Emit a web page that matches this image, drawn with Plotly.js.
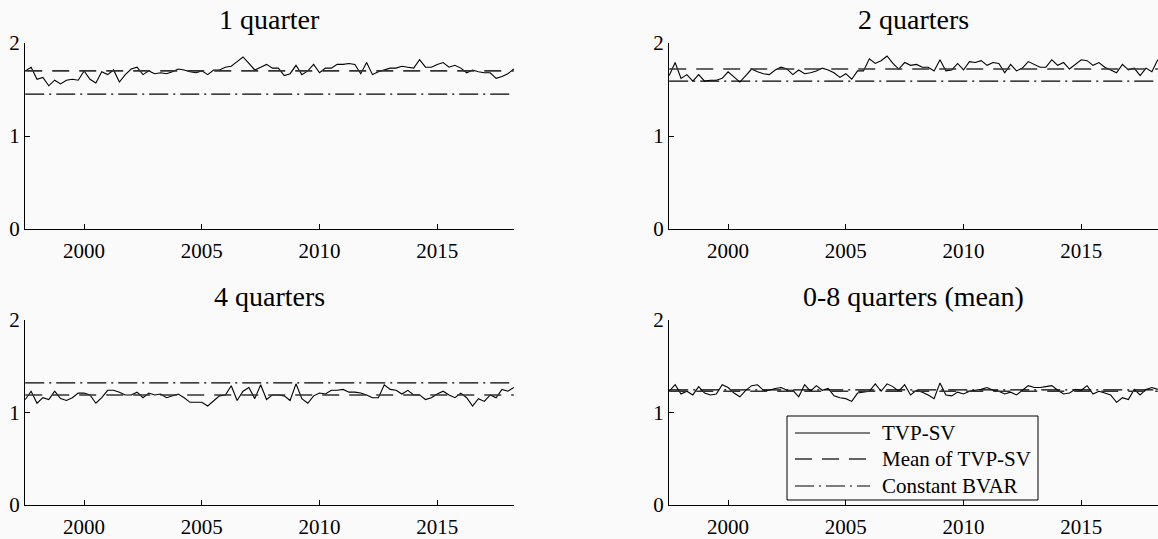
<!DOCTYPE html>
<html>
<head>
<meta charset="utf-8">
<script src="https://cdn.plot.ly/plotly-3.0.1.min.js"></script>
<style>html,body{margin:0;padding:0;background:#fafafa;}#chart{width:1158px;height:539px;}</style>
</head>
<body>
<div id="chart"></div>
<script>
// Quarterly sample 1997Q3 - 2018Q2
const startYear = 1997.5;
const nQuarters = 84;
const dates = [];
for (let i = 0; i < nQuarters; i++) dates.push(startYear + i * 0.25);

const panelTitles = ["1 quarter", "2 quarters", "4 quarters", "0-8 quarters (mean)"];
const seriesNames = ["TVP-SV", "Mean of TVP-SV", "Constant BVAR"];
const xTickVals = [2000, 2005, 2010, 2015];
const yTickVals = [0, 1, 2];

const tvp1 = [1.70,1.74,1.61,1.63,1.54,1.60,1.56,1.60,1.61,1.60,1.70,1.61,1.57,1.69,1.66,1.71,1.58,1.66,1.72,1.74,
  1.66,1.70,1.67,1.68,1.67,1.69,1.72,1.71,1.69,1.68,1.70,1.66,1.71,1.71,1.74,1.75,1.80,1.85,1.78,1.71,
  1.74,1.77,1.73,1.73,1.65,1.67,1.76,1.66,1.70,1.77,1.68,1.73,1.73,1.77,1.77,1.78,1.77,1.67,1.79,1.66,
  1.69,1.71,1.73,1.73,1.75,1.74,1.73,1.82,1.74,1.74,1.77,1.79,1.74,1.76,1.73,1.68,1.71,1.69,1.68,1.68,
  1.62,1.64,1.67,1.72];
const tvp2 = [1.65,1.79,1.62,1.66,1.59,1.66,1.59,1.60,1.60,1.62,1.69,1.64,1.58,1.65,1.72,1.69,1.67,1.66,1.71,1.74,
  1.72,1.66,1.71,1.67,1.68,1.70,1.73,1.71,1.68,1.63,1.67,1.61,1.70,1.70,1.83,1.78,1.81,1.86,1.78,1.72,
  1.79,1.76,1.77,1.74,1.74,1.70,1.82,1.70,1.71,1.78,1.71,1.80,1.79,1.81,1.76,1.79,1.78,1.68,1.77,1.70,
  1.73,1.80,1.77,1.74,1.74,1.82,1.76,1.79,1.72,1.77,1.82,1.81,1.76,1.79,1.74,1.71,1.68,1.77,1.71,1.73,
  1.65,1.73,1.69,1.82];
const tvp4 = [1.14,1.23,1.10,1.16,1.14,1.23,1.15,1.13,1.16,1.21,1.21,1.19,1.10,1.16,1.24,1.24,1.22,1.19,1.19,1.22,
  1.16,1.21,1.19,1.20,1.16,1.18,1.20,1.16,1.11,1.11,1.11,1.07,1.12,1.18,1.19,1.29,1.13,1.23,1.27,1.15,
  1.30,1.14,1.19,1.19,1.18,1.13,1.31,1.15,1.10,1.18,1.21,1.20,1.24,1.24,1.25,1.22,1.22,1.21,1.19,1.16,
  1.16,1.30,1.25,1.24,1.20,1.24,1.19,1.19,1.14,1.16,1.20,1.23,1.19,1.16,1.21,1.16,1.07,1.15,1.12,1.19,
  1.16,1.25,1.23,1.27];
const tvp08 = [1.23,1.30,1.20,1.23,1.19,1.28,1.21,1.19,1.20,1.30,1.27,1.21,1.17,1.24,1.29,1.30,1.24,1.24,1.26,1.27,
  1.24,1.24,1.17,1.30,1.23,1.29,1.24,1.26,1.18,1.16,1.15,1.12,1.21,1.22,1.23,1.31,1.23,1.31,1.28,1.23,
  1.30,1.19,1.24,1.22,1.19,1.15,1.32,1.19,1.18,1.22,1.20,1.23,1.24,1.25,1.27,1.24,1.23,1.20,1.22,1.19,
  1.24,1.29,1.27,1.27,1.28,1.29,1.24,1.20,1.21,1.25,1.24,1.29,1.20,1.23,1.21,1.19,1.11,1.16,1.14,1.25,
  1.19,1.25,1.27,1.25];

const meanTVP = [1.70, 1.72, 1.19, 1.23];
const constBVAR = [1.45, 1.59, 1.32, 1.245];

const tvpSeries = [tvp1, tvp2, tvp4, tvp08];

const FONT = "Liberation Serif, Times New Roman, serif";
const traces = [];
const axSuffix = ["", "2", "3", "4"];
const x0 = dates[0], x1 = dates[dates.length - 1];
for (let p = 0; p < 4; p++) {
  const xa = "x" + axSuffix[p], ya = "y" + axSuffix[p];
  traces.push({x: dates, y: tvpSeries[p], xaxis: xa, yaxis: ya, mode: "lines", name: seriesNames[0],
    line: {color: "#000", width: 1.1}, showlegend: false, hoverinfo: "skip"});
  traces.push({x: [x0, x1], y: [meanTVP[p], meanTVP[p]], xaxis: xa, yaxis: ya, mode: "lines", name: seriesNames[1],
    line: {color: "#333", width: 1.6, dash: "17px,10px"}, showlegend: false, hoverinfo: "skip"});
  traces.push({x: [x0, x1], y: [constBVAR[p], constBVAR[p]], xaxis: xa, yaxis: ya, mode: "lines", name: seriesNames[2],
    line: {color: "#000", width: 1.1, dash: "19px,5px,2px,5px"}, showlegend: false, hoverinfo: "skip"});
}

const W = 1158, H = 539;
const px = v => v / W, py = v => (H - v) / H;
const xDomL = [px(25), px(514)], xDomR = [px(669), 1.0];
const yDomT = [py(229), py(43)], yDomB = [py(505), py(320)];

function xax(domain, anchor) {
  return {domain: domain, anchor: anchor, range: [1997.49, 2018.26], tickvals: xTickVals, ticktext: xTickVals.map(String),
    showline: true, linecolor: "#000", linewidth: 1, ticks: "inside", ticklen: 5, tickcolor: "#000", tickwidth: 1,
    showgrid: false, zeroline: false, fixedrange: true, tickfont: {family: FONT, size: 21, color: "#000"}, ticklabelstandoff: 3};
}
function yax(domain, anchor) {
  return {domain: domain, anchor: anchor, range: [0, 2], tickvals: yTickVals, ticktext: yTickVals.map(String),
    showline: true, linecolor: "#000", linewidth: 1, ticks: "inside", ticklen: 5, tickcolor: "#000", tickwidth: 1,
    showgrid: false, zeroline: false, fixedrange: true, tickfont: {family: FONT, size: 21, color: "#000"}};
}

const annotations = [];
const titlePos = [[(25 + 514) / 2, 20], [(669 + 1158) / 2, 20], [(25 + 514) / 2, 297], [(669 + 1158) / 2, 297]];
for (let p = 0; p < 4; p++) {
  annotations.push({text: panelTitles[p], xref: "paper", yref: "paper", x: px(titlePos[p][0]), y: py(titlePos[p][1]),
    xanchor: "center", yanchor: "middle", showarrow: false, font: {family: FONT, size: 28, color: "#000"}});
}
// custom legend (bottom-right panel)
const legRows = [433, 459, 486];
const legDash = ["solid", "17px,10px", "19px,5px,2px,5px"];
const legColor = ["#000", "#333", "#000"];
const legWidth = [1.1, 1.6, 1.1];
const shapes = [{type: "rect", xref: "paper", yref: "paper", x0: px(787), x1: px(1038), y0: py(500), y1: py(416),
  line: {color: "#000", width: 1}, fillcolor: "#fafafa"}];
for (let k = 0; k < 3; k++) {
  shapes.push({type: "line", xref: "paper", yref: "paper", x0: px(795), x1: px(870), y0: py(legRows[k]), y1: py(legRows[k]),
    line: {color: legColor[k], width: legWidth[k], dash: legDash[k]}});
  annotations.push({text: seriesNames[k], xref: "paper", yref: "paper", x: px(880), y: py(legRows[k]),
    xanchor: "left", yanchor: "middle", showarrow: false, font: {family: FONT, size: 21, color: "#000"}});
}

const layout = {
  width: W, height: H, margin: {l: 0, r: 0, t: 0, b: 0},
  font: {family: FONT, color: "#000"},
  paper_bgcolor: "#fafafa", plot_bgcolor: "#fafafa", showlegend: false,
  xaxis: xax(xDomL, "y"), yaxis: yax(yDomT, "x"),
  xaxis2: xax(xDomR, "y2"), yaxis2: yax(yDomT, "x2"),
  xaxis3: xax(xDomL, "y3"), yaxis3: yax(yDomB, "x3"),
  xaxis4: xax(xDomR, "y4"), yaxis4: yax(yDomB, "x4"),
  annotations: annotations, shapes: shapes
};
Plotly.newPlot("chart", traces, layout, {displayModeBar: false, staticPlot: true});
</script>
</body>
</html>
